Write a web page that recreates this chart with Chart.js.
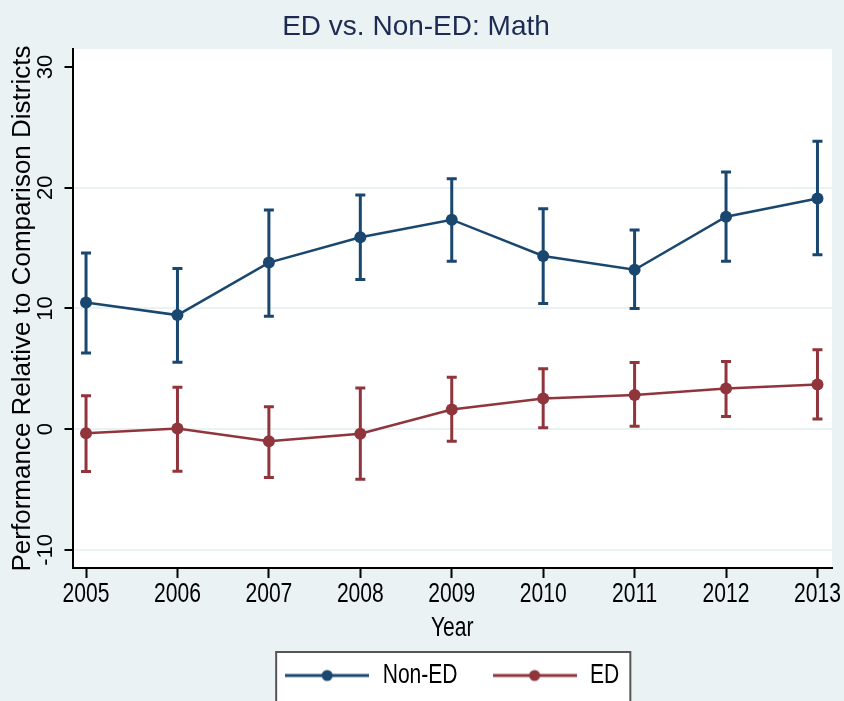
<!DOCTYPE html>
<html>
<head>
<meta charset="utf-8">
<title>ED vs. Non-ED: Math</title>
<script src="https://cdn.jsdelivr.net/npm/chart.js@4.4.1/dist/chart.umd.min.js"></script>
<style>
  html, body { margin: 0; padding: 0; background: #EAF2F3; }
  #chart { display: block; }
</style>
</head>
<body>
<canvas id="chart" width="844" height="701"></canvas>
<script>
// data
const years = [2005, 2006, 2007, 2008, 2009, 2010, 2011, 2012, 2013];
const yTicks = [-10, 0, 10, 20, 30];

const nonEdMean = [10.5, 9.45, 13.8, 15.9, 17.35, 14.35, 13.2, 17.6, 19.1];
const nonEdLow  = [6.3, 5.55, 9.35, 12.4, 13.9, 10.4, 10.0, 13.9, 14.45];
const nonEdHigh = [14.6, 13.3, 18.15, 19.4, 20.75, 18.25, 16.5, 21.3, 23.85];

const edMean = [-0.33, 0.05, -1.0, -0.38, 1.63, 2.54, 2.83, 3.36, 3.69];
const edLow  = [-3.5, -3.48, -4.0, -4.15, -1.0, 0.12, 0.25, 1.05, 0.85];
const edHigh = [2.77, 3.48, 1.85, 3.4, 4.3, 5.0, 5.52, 5.6, 6.58];

const NAVY = '#1A476F';
const MAROON = '#90353B';
const GRID = '#EAF2F3';
// no narrow face is installed, so text set in it gets squeezed sideways (see condense)
const NARROW = "'Liberation Sans Narrow', 'Liberation Sans', Arial, sans-serif";
const REGULAR = "'Liberation Sans', Arial, sans-serif";
const SQUEEZE = 0.78;

const toPoints = (vals) => vals.map((v, i) => ({ x: years[i], y: v }));

// Stata-style tall, narrow lettering for horizontal text
function condense(ctx, factor) {
  const fill = ctx.fillText.bind(ctx);
  const measure = ctx.measureText.bind(ctx);
  const isNarrow = () => ctx.font.indexOf('Narrow') !== -1;
  ctx.fillText = function (text, x, y, maxWidth) {
    if (!isNarrow()) {
      return maxWidth === undefined ? fill(text, x, y) : fill(text, x, y, maxWidth);
    }
    ctx.save();
    ctx.translate(x, y);
    ctx.scale(factor, 1);
    if (maxWidth === undefined) fill(text, 0, 0);
    else fill(text, 0, 0, maxWidth / factor);
    ctx.restore();
  };
  ctx.measureText = function (text) {
    const m = measure(text);
    if (!isNarrow()) return m;
    return {
      width: m.width * factor,
      actualBoundingBoxAscent: m.actualBoundingBoxAscent,
      actualBoundingBoxDescent: m.actualBoundingBoxDescent
    };
  };
}

// legend sample: line with a dot in the middle
function legendIcon(color) {
  const c = document.createElement('canvas');
  c.width = 84;
  c.height = 14;
  const g = c.getContext('2d');
  g.strokeStyle = color;
  g.lineWidth = 3;
  g.beginPath();
  g.moveTo(0, 7);
  g.lineTo(84, 7);
  g.stroke();
  g.fillStyle = color;
  g.beginPath();
  g.arc(42, 7, 5.5, 0, Math.PI * 2);
  g.fill();
  return c;
}
const legendIcons = [legendIcon(NAVY), legendIcon(MAROON)];

// white plot region and framed legend box
const panels = {
  id: 'panels',
  beforeDraw(chart) {
    const { ctx, chartArea: a, legend } = chart;
    ctx.save();
    ctx.fillStyle = '#fff';
    ctx.fillRect(a.left, a.top, a.right - a.left, a.bottom - a.top);
    const hb = legend.legendHitBoxes;
    if (hb && hb.length) {
      const last = hb[hb.length - 1];
      const left = hb[0].left - 9;
      const right = last.left + last.width + 11;
      const top = legend.top + 25;
      const bottom = chart.height + 5;
      ctx.fillRect(left, top, right - left, bottom - top);
      ctx.strokeStyle = '#555';
      ctx.lineWidth = 2;
      ctx.strokeRect(left, top, right - left, bottom - top);
    }
    ctx.restore();
  }
};

// confidence interval whiskers, drawn under the lines and markers
const errorBars = {
  id: 'errorBars',
  beforeDatasetsDraw(chart) {
    const { ctx, scales: { x, y } } = chart;
    chart.data.datasets.forEach((ds, i) => {
      if (!chart.isDatasetVisible(i)) return;
      ctx.save();
      ctx.strokeStyle = ds.borderColor;
      ctx.lineWidth = 3;
      ds.data.forEach((pt, j) => {
        const px = x.getPixelForValue(pt.x);
        const lo = y.getPixelForValue(ds.errLow[j]);
        const hi = y.getPixelForValue(ds.errHigh[j]);
        ctx.beginPath();
        ctx.moveTo(px, lo);
        ctx.lineTo(px, hi);
        ctx.moveTo(px - 5, lo);
        ctx.lineTo(px + 5, lo);
        ctx.moveTo(px - 5, hi);
        ctx.lineTo(px + 5, hi);
        ctx.stroke();
      });
      ctx.restore();
    });
  }
};

const ctx = document.getElementById('chart').getContext('2d');
condense(ctx, SQUEEZE);

new Chart(ctx, {
  type: 'line',
  data: {
    datasets: [
      {
        label: 'Non-ED',
        data: toPoints(nonEdMean),
        errLow: nonEdLow,
        errHigh: nonEdHigh,
        borderColor: NAVY,
        backgroundColor: NAVY,
        borderWidth: 2.5,
        pointRadius: 6,
        pointBorderWidth: 0,
        tension: 0
      },
      {
        label: 'ED',
        data: toPoints(edMean),
        errLow: edLow,
        errHigh: edHigh,
        borderColor: MAROON,
        backgroundColor: MAROON,
        borderWidth: 2.5,
        pointRadius: 6,
        pointBorderWidth: 0,
        tension: 0
      }
    ]
  },
  options: {
    responsive: false,
    animation: false,
    devicePixelRatio: 1,
    layout: { padding: { left: 0, right: 12, top: 0, bottom: 2 } },
    plugins: {
      title: {
        display: true,
        text: 'ED vs. Non-ED: Math',
        color: '#1D2B53',
        font: { family: REGULAR, size: 28, weight: 'normal', lineHeight: 1 },
        padding: { top: 13, bottom: 8 }
      },
      legend: {
        position: 'bottom',
        fullSize: false,
        labels: {
          color: '#000',
          font: { family: NARROW, size: 27 },
          padding: 35,
          usePointStyle: true,
          pointStyleWidth: 84,
          generateLabels: (chart) =>
            Chart.defaults.plugins.legend.labels.generateLabels(chart)
              .map((item, i) => ({ ...item, pointStyle: legendIcons[i] }))
        }
      },
      tooltip: { enabled: false }
    },
    scales: {
      x: {
        type: 'linear',
        min: 2004.852,
        max: 2013.159,
        afterBuildTicks: (scale) => { scale.ticks = years.map(v => ({ value: v })); },
        afterFit: (scale) => { scale.height = 59; },
        border: { color: '#000', width: 2 },
        grid: {
          drawOnChartArea: false,
          drawTicks: true,
          tickLength: 10,
          tickColor: '#000',
          tickWidth: 2
        },
        ticks: {
          padding: 0,
          color: '#000',
          font: { family: NARROW, size: 27 },
          maxRotation: 0,
          callback: (v) => String(v)
        },
        title: {
          display: true,
          text: 'Year',
          color: '#000',
          font: { family: NARROW, size: 27, lineHeight: 1 },
          padding: { top: 0, bottom: -15.5 }
        }
      },
      y: {
        min: -11.5,
        max: 31.49,
        afterBuildTicks: (scale) => { scale.ticks = yTicks.map(v => ({ value: v })); },
        afterFit: (scale) => { scale.width = 72.5; },
        border: { color: '#000', width: 2 },
        grid: {
          color: (c) => (c.tick && c.tick.value === 30 ? 'rgba(0,0,0,0)' : GRID),
          lineWidth: 2,
          tickLength: 8,
          tickColor: '#000',
          tickWidth: 2
        },
        ticks: {
          padding: 3,
          color: '#000',
          crossAlign: 'center',
          minRotation: 90,
          maxRotation: 90,
          font: { family: REGULAR, size: 22 },
          callback: (v) => String(v)
        },
        title: {
          display: true,
          text: 'Performance Relative to Comparison Districts',
          color: '#000',
          font: { family: REGULAR, size: 26, lineHeight: 1 },
          padding: { top: 10, bottom: 0 }
        }
      }
    }
  },
  plugins: [panels, errorBars]
});
</script>
</body>
</html>
